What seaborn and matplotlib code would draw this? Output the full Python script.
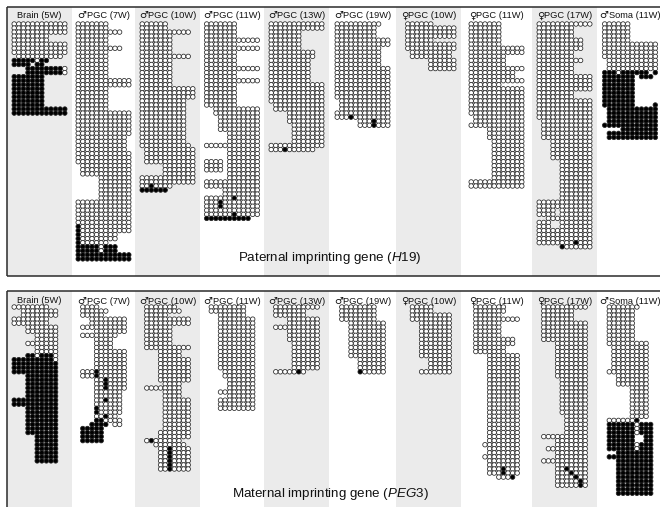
import matplotlib
matplotlib.use("Agg")
import matplotlib.pyplot as plt
from matplotlib.patches import Rectangle
from matplotlib.offsetbox import TextArea, HPacker, AnnotationBbox
import pandas as pd
import seaborn as sns

sns.set_theme(style="white")
plt.rcParams["font.family"] = ["Liberation Sans", "DejaVu Sans"]
plt.rcParams["mathtext.fontset"] = "custom"
plt.rcParams["mathtext.rm"] = "Liberation Sans"
plt.rcParams["mathtext.it"] = "Liberation Sans:italic"

# ---------------------------------------------------------------------------
# Samples (columns) and the two imprinted loci (panels)
# ---------------------------------------------------------------------------
SAMPLES = ["Brain (5W)", "♂PGC (7W)", "♂PGC (10W)", "♂PGC (11W)", "♂PGC (13W)",
           "♂PGC (19W)", "♀PGC (10W)", "♀PGC (11W)", "♀PGC (17W)", "♂Soma (11W)"]
GENE_TITLES = ["Paternal imprinting gene ($\\mathit{H19}$)",
               "Maternal imprinting gene ($\\mathit{PEG3}$)"]

# Bisulfite clones: (number of identical clones, CpG pattern)
# 'o' = unmethylated CpG, 'x' = methylated CpG, '.' = CpG not covered
H19_BRAIN_5W = [
    (3, "oooooooooooo"), (2, "oooooooo...."), (3, "oooooooooooo"), (1, ".oooooooooo."),
    (1, "xxxxxoxx...."), (1, "xxxx.xx....."), (2, "...xxxxxxxxo"), (8, "xxxxxxx....."),
    (2, "xxxxxxxxxxxx"),
]
H19_MPGC_7W = [
    (2, "ooooooo....."), (1, "oooooooooo.."), (3, "ooooooo....."), (1, "oooooooooo.."),
    (7, "ooooooo....."), (2, "oooooooooooo"), (6, "ooooooo....."), (6, "oooooooooooo"),
    (4, "ooooooooooo."), (3, "oooooooooooo"), (3, ".ooooooooooo"), (6, ".....ooooooo"),
    (6, "oooooooooooo"), (2, "xooooooooooo"), (2, "xoooooooo..."), (1, "xoooooo....."),
    (2, "xxxxxoxxx..."), (2, "xxxxxxxxxxxx"),
]
H19_MPGC_10W = [
    (2, "oooooo......"), (1, "ooooooooooo."), (5, "ooooooo....."), (1, "ooooooooooo."),
    (7, "ooooooo....."), (3, "oooooooooooo"), (11, "oooooooooo.."), (1, "ooooooooooo."),
    (4, ".ooooooooooo"), (3, ".....ooooooo"), (2, "oooooooooooo"), (1, "ooxoooo....."),
    (1, "xxxxxx......"),
]
H19_MPGC_11W = [
    (4, "ooooooo....."), (1, "oooooooooooo"), (1, "ooooooo....."), (1, "oooooooooooo"),
    (4, "ooooooo....."), (1, "oooooooooooo"), (2, "ooooooo....."), (1, "oooooooooooo"),
    (6, "ooooooo....."), (2, "..oooooooooo"), (4, "...ooooooooo"), (3, ".....ooooooo"),
    (1, "oooooooooooo"), (3, ".....ooooooo"), (3, "oooo.ooooooo"), (2, ".....ooooooo"),
    (2, "oooooooooooo"), (2, "....oooooooo"), (1, "ooooooxooooo"), (2, "oooxoooooooo"),
    (1, "oooooooooooo"), (1, "ooooooxooooo"), (1, "xxxxxxxxxx.."),
]
H19_MPGC_13W = [
    (2, "oooooooooooo"), (5, "ooooooo....."), (2, "oooooooooo.."), (6, "ooooooooo..."),
    (5, "oooooooooooo"), (2, ".ooooooooooo"), (3, "....oooooooo"), (5, ".....ooooooo"),
    (1, "oooooooooooo"), (1, "oooxoooooo.."),
]
H19_MPGC_19W = [
    (1, "oooooooooo.."), (3, "ooooooooo..."), (2, "oooooooooooo"), (5, "oooooooooo.."),
    (8, "oooooooooooo"), (3, ".ooooooooooo"), (1, "oooooooooooo"), (1, "oooxoooooooo"),
    (2, ".....oooxooo"),
]
H19_FPGC_10W = [
    (1, ".oooooo....."), (3, ".ooooooooooo"), (1, ".oooooo....."), (2, ".ooooooooooo"),
    (2, "..ooooooooo."), (3, "......oooooo"),
]
H19_FPGC_11W = [
    (6, "ooooooo....."), (2, "oooooooooooo"), (3, "oooooooo...."), (1, "oooooooooooo"),
    (2, "oooooooooo.."), (1, "oooooooooooo"), (1, "ooooooo....."), (7, "oooooooooooo"),
    (2, ".ooooooooooo"), (1, "oooooooooooo"), (3, "....oooooooo"), (10, ".....ooooooo"),
    (2, "oooooooooooo"),
]
H19_FPGC_17W = [
    (1, "oooooooooooo"), (3, "oooooooo...."), (3, "oooooooooo.."), (2, "oooooooo...."),
    (1, "oooooooooo.."), (3, "oooooooo...."), (4, "oooooooooooo"), (2, "oooooooo...."),
    (5, "oooooooooooo"), (5, ".ooooooooooo"), (5, "...ooooooooo"), (10, ".....ooooooo"),
    (2, "oooooooooooo"), (2, "oooo.ooooooo"), (1, "..oooooooooo"), (2, "ooo..ooooooo"),
    (3, "oooooooooooo"), (1, "ooooooooxooo"), (1, ".....xoooooo"),
]
H19_MSOMA_11W = [
    (5, "oooooo......"), (4, "oooooooooooo"), (3, ".ooooooooooo"), (1, "xxxoxxxxxx.x"),
    (1, "xxxxxxx.xxx."), (6, "xxxxxxx....."), (1, "xxxxxxx....x"), (4, ".xxxxxxxxxxx"),
    (1, "xxxxxxxxxxxx"), (1, "....xxxxxxxx"), (2, ".xxxxxxxxxxx"),
]

PEG3_BRAIN_5W = [
    (1, "oooooooo..."), (2, "..oooooooo."), (2, "oooooooo..."), (2, "...ooooooo."),
    (2, ".....ooooo."), (1, "...ooooooo."), (2, ".....ooooo."), (1, "...xxoxxxo."),
    (1, "xxxxxxxxxo."), (3, "xxxxxxxxxx."), (6, "...xxxxxxx."), (2, "xxxxxxxxxx."),
    (7, "...xxxxxxx."), (7, ".....xxxxx."),
]
PEG3_MPGC_7W = [
    (1, ".oooo......"), (1, ".oooooo...."), (1, ".ooooo....."), (2, "...oooooooo"),
    (1, ".oooooooooo"), (1, "....ooooooo"), (1, ".oooooooo.."), (3, "....oooo..."),
    (5, "....ooooooo"), (2, ".oooxoooooo"), (3, "....ooxoooo"), (2, "....oooooo."),
    (1, "....ooxooo."), (1, "....oooooo."), (2, "....xooooo."), (1, "....ooxoo.."),
    (1, "....xxoooo."), (1, "...xxxx.oo."), (4, ".xxxxx....."),
]
PEG3_MPGC_10W = [
    (1, ".ooooooo..."), (1, ".oooooooo.."), (1, ".ooooo....."), (2, ".oooooooooo"),
    (5, ".oooooo...."), (1, ".oooooooooo"), (2, "....ooooo.."), (6, "....ooooooo"),
    (1, ".....oooo.."), (1, ".oooooooo.."), (2, ".....oooo.."), (8, ".....oooooo"),
    (2, "....ooooooo"), (1, ".oxoooooo.."), (1, "...ooooooo."), (6, "....ooxoooo"),
]
PEG3_MPGC_11W = [
    (2, ".oooooooo.."), (1, "...oooooo.."), (13, "...oooooooo"), (2, "....ooooooo"),
    (3, ".....oooooo"), (1, "...oooooooo"), (1, ".....oooooo"), (3, "...oooooooo"),
]
PEG3_MPGC_13W = [
    (1, ".oooooooooo"), (2, ".ooooooo..."), (2, "....ooooooo"), (1, ".oooooooooo"),
    (3, "....ooooooo"), (7, ".....oooooo"), (1, ".oooooxo..."),
]
PEG3_MPGC_19W = [
    (4, ".oooooooo.."), (9, "...oooooooo"), (3, ".....oooooo"), (1, ".....xooooo"),
]
PEG3_FPGC_10W = [
    (2, "..ooooo...."), (2, "..ooooooooo"), (9, "....ooooooo"), (3, "......ooooo"),
    (1, "....ooooooo"),
]
PEG3_FPGC_11W = [
    (2, ".ooooooo..."), (1, ".oooooo...."), (1, ".oooooooooo"), (4, ".oooooo...."),
    (2, ".ooooooooo."), (2, ".ooooooo..."), (22, "....ooooooo"), (1, "...oooooooo"),
    (2, "....ooooooo"), (1, "...oooooooo"), (2, "....ooooooo"), (2, "....oooxooo"),
    (1, "......ooox."),
]
PEG3_FPGC_17W = [
    (1, ".oooooooooo"), (3, ".ooooooo..."), (5, ".oooooooooo"), (9, "....ooooooo"),
    (9, ".....oooooo"), (5, "......ooooo"), (1, ".oooooooooo"), (2, "....ooooooo"),
    (1, "..ooooooooo"), (2, "....ooooooo"), (1, ".oooooooooo"), (1, "....ooooooo"),
    (1, "....ooxoooo"), (1, "....oooxooo"), (1, "....ooooxoo"), (2, "....oooooxo"),
]
PEG3_MSOMA_11W = [
    (1, ".ooooooo..."), (8, ".oooooo...."), (1, ".ooooooooo."), (6, "..oooooooo."),
    (1, ".ooooooooo."), (3, "...ooooooo."), (8, "......oooo."), (1, ".oooooox..."),
    (3, ".xxxxxxoxxx"), (2, ".xxxxxx..xx"), (2, ".xxxxxxoxxx"), (1, "...xxxxxxxx"),
    (1, ".xxxxxxxxxx"), (9, "...xxxxxxxx"),
]

H19_CLONES = [H19_BRAIN_5W, H19_MPGC_7W, H19_MPGC_10W, H19_MPGC_11W, H19_MPGC_13W,
              H19_MPGC_19W, H19_FPGC_10W, H19_FPGC_11W, H19_FPGC_17W, H19_MSOMA_11W]
PEG3_CLONES = [PEG3_BRAIN_5W, PEG3_MPGC_7W, PEG3_MPGC_10W, PEG3_MPGC_11W, PEG3_MPGC_13W,
               PEG3_MPGC_19W, PEG3_FPGC_10W, PEG3_FPGC_11W, PEG3_FPGC_17W, PEG3_MSOMA_11W]

# ---------------------------------------------------------------------------
# Layout (figure pixels)
# ---------------------------------------------------------------------------
W, H = 660, 507
COL_EDGES = [7, 72, 135, 200, 264, 329, 396, 461, 532, 597, 663]
CPG_PITCH = 4.6
CLONE_PITCH = 4.05
PANELS = [
    dict(clones=H19_CLONES, title=GENE_TITLES[0], top=7, bottom=276,
         label_y=15.5, first_row=24, title_y=258),
    dict(clones=PEG3_CLONES, title=GENE_TITLES[1], top=291, bottom=H + 2,
         label_y=300.5, first_row=307, title_y=494),
]
SHADE = "#ebebeb"
LINE = "#2b2b2b"
SEX_SIGNS = "♂♀"


def expand(blocks):
    rows = []
    for n, pattern in blocks:
        rows.extend([pattern] * n)
    return rows


def sample_label(ax, text, x, y):
    """Column header; the sex sign is set a touch larger than the rest."""
    parts = []
    if text[0] in SEX_SIGNS:
        parts.append(TextArea(text[0], textprops=dict(fontsize=7.2, family="DejaVu Sans",
                                                      color="#111111")))
        text = text[1:]
    parts.append(TextArea(text, textprops=dict(fontsize=6.7, color="#111111")))
    box = HPacker(children=parts, align="baseline", pad=0, sep=0)
    ab = AnnotationBbox(box, (x, y), xycoords="data", frameon=False,
                        box_alignment=(0.5, 0.5), pad=0, zorder=3)
    ax.add_artist(ab)


records = []
for panel in PANELS:
    for c, blocks in enumerate(panel["clones"]):
        center = 0.5 * (COL_EDGES[c] + COL_EDGES[c + 1])
        x0 = center - 25.3
        for r, pattern in enumerate(expand(blocks)):
            for k, ch in enumerate(pattern):
                if ch == ".":
                    continue
                records.append(dict(x=x0 + k * CPG_PITCH,
                                    y=panel["first_row"] + r * CLONE_PITCH,
                                    state="methylated" if ch == "x" else "unmethylated"))
df = pd.DataFrame(records)

fig = plt.figure(figsize=(W / 100, H / 100), dpi=100)
ax = fig.add_axes([0, 0, 1, 1])

for panel in PANELS:
    top, bottom = panel["top"], panel["bottom"]
    for c in range(len(SAMPLES)):
        if c % 2 == 0:
            ax.add_patch(Rectangle((COL_EDGES[c], top), COL_EDGES[c + 1] - COL_EDGES[c],
                                   bottom - top, facecolor=SHADE, edgecolor="none", zorder=0))
        sample_label(ax, SAMPLES[c], 0.5 * (COL_EDGES[c] + COL_EDGES[c + 1]), panel["label_y"])
    ax.plot([COL_EDGES[0], W + 5], [top, top], color=LINE, lw=1.1, zorder=4,
            solid_capstyle="butt")
    ax.plot([COL_EDGES[0], COL_EDGES[0]], [top, bottom], color=LINE, lw=1.1, zorder=4,
            solid_capstyle="butt")
    if bottom < H:
        ax.plot([COL_EDGES[0], W + 5], [bottom, bottom], color=LINE, lw=1.1, zorder=4,
                solid_capstyle="butt")
    ax.text(330, panel["title_y"], panel["title"], ha="center", va="center",
            fontsize=9.6, color="#111111", zorder=3)

sns.scatterplot(data=df, x="x", y="y", hue="state",
                palette={"unmethylated": "white", "methylated": "black"},
                s=10.5, edgecolor="#262626", linewidth=0.55, legend=False, ax=ax, zorder=2)
ax.set_xlim(0, W)
ax.set_ylim(H, 0)
ax.axis("off")

fig.savefig("out.png", dpi=100)
